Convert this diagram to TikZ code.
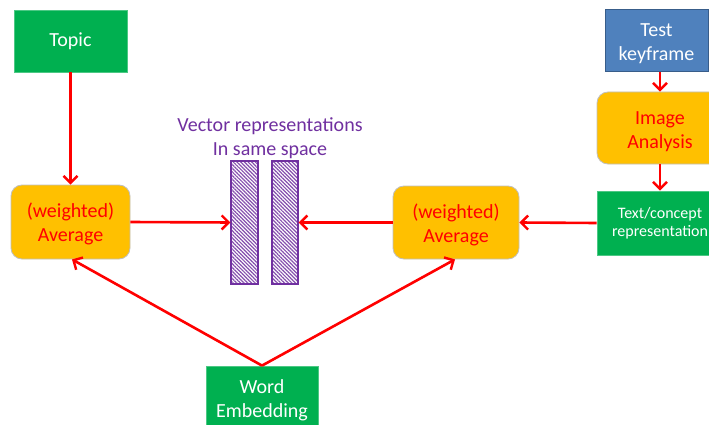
\documentclass[tikz,border=0pt]{standalone}
\usepackage{fontspec}
\setmainfont{Carlito}
\usetikzlibrary{arrows.meta,patterns.meta}
\definecolor{boxgreen}{HTML}{00B050}
\definecolor{boxorange}{HTML}{FFC000}
\definecolor{boxblue}{HTML}{4F81BD}
\definecolor{blueedge}{HTML}{385D8A}
\definecolor{vecpurple}{HTML}{7030A0}
\definecolor{arrowred}{HTML}{FF0000}
% centred lines of box text, set a little lower than the geometric centre
\newcommand\boxlines[2]{\begin{tabular}{@{}c@{}}\rule{0pt}{\dimexpr16.8pt+#1*2\relax}#2\end{tabular}}
\tikzset{
  every node/.style={font=\fontsize{20}{24}\selectfont, align=center, inner sep=0pt},
  greenbox/.style={fill=boxgreen, draw=boxgreen!70!white, line width=0.8pt, text=white},
  bluebox/.style={fill=boxblue, draw=blueedge, line width=1pt, text=white},
  avgbox/.style={fill=boxorange, draw=black!25, line width=0.8pt, rounded corners=11pt, text=arrowred},
  vecbar/.style={draw=vecpurple, line width=1.3pt,
    pattern={Lines[angle=-45,distance=2.6pt,line width=1.2pt]}, pattern color=vecpurple!85},
  flow/.style={draw=arrowred, line width=2.6pt, -{Straight Barb[length=7pt,width=14pt,line width=2.4pt]}},
}
\begin{document}
\begin{tikzpicture}[x=1pt,y=-1pt]
\useasboundingbox (0,0) rectangle (709,425);
\clip (0,0) rectangle (709,425);
\fill[white] (0,0) rectangle (709,425);

% left column
\node[greenbox, minimum width=113pt, minimum height=62pt] (topic) at (70.5,41) {\boxlines{1pt}{Topic}};
\node[avgbox, minimum width=119pt, minimum height=74pt] (avgL) at (70.5,222) {\boxlines{3pt}{(weighted)\\Average}};

% shared vector space
\node[text=vecpurple] (vlabel) at (270,138) {Vector representations\\In same space};
\node[vecbar, minimum width=27pt, minimum height=123pt] (vecL) at (244.5,222.5) {};
\node[vecbar, minimum width=26pt, minimum height=123pt] (vecR) at (285,222.5) {};

% right column
\node[avgbox, minimum width=126pt, minimum height=73pt] (avgR) at (456,222.5) {\boxlines{3pt}{(weighted)\\Average}};
\node[bluebox, minimum width=103pt, minimum height=62pt] (test) at (656.5,41) {\boxlines{2.5pt}{Test\\keyframe}};
\node[avgbox, minimum width=126pt, minimum height=72pt] (image) at (660,128) {\boxlines{3.5pt}{Image\\Analysis}};
\node[greenbox, minimum width=126pt, minimum height=64pt,
      font=\fontsize{16}{18.5}\selectfont] (textc) at (660,223) {Text/concept\\representation};

% bottom
\node[greenbox, minimum width=112pt, minimum height=66pt] (word) at (262,399) {\boxlines{1.5pt}{Word\\Embedding}};

% connectors
\draw[flow] (topic.south) -- (avgL.north);
\draw[flow] (avgL.east) -- (vecL.west);
\draw[flow] (avgR.west) -- (vecR.east);
\draw[flow] (textc.west) -- (avgR.east);
\draw[flow] (test.south -| image.center) -- (image.north);
\draw[flow] (image.south) -- (textc.north);
\draw[flow] (word.north) -- ([xshift=1.5pt]avgL.south);
\draw[flow] (word.north) -- ([xshift=-1pt]avgR.south);
\end{tikzpicture}
\end{document}
